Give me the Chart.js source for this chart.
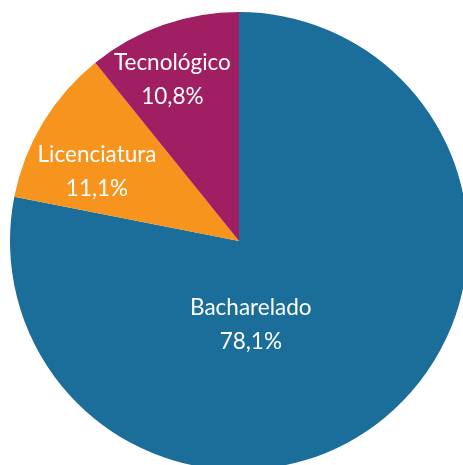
<!DOCTYPE html>
<html>
<head>
<meta charset="utf-8">
<script src="https://cdn.jsdelivr.net/npm/chart.js@4"></script>
<style>
  html, body { margin: 0; padding: 0; background: #fff; overflow: hidden; }
  #wrap { position: absolute; left: 10px; top: 12px; width: 458px; height: 458px; }
</style>
</head>
<body>
<div id="wrap"><canvas id="myChart" width="458" height="458"></canvas></div>
<script>
var categories = ['Bacharelado', 'Licenciatura', 'Tecnológico'];
var shares = [78.1, 11.1, 10.8];
var colors = ['#1b6d9a', '#f7941d', '#a01f62'];

// where each label sits: angle from top (clockwise, degrees) and fraction of radius
var labelSpots = [[172, 0.37], [296, 0.69], [337.5, 0.76]];

var sliceLabels = {
    id: 'sliceLabels',
    afterDatasetsDraw: function (chart) {
        var ctx = chart.ctx;
        var arcs = chart.getDatasetMeta(0).data;
        ctx.save();
        ctx.fillStyle = '#ffffff';
        ctx.font = '22.5px Lato';
        ctx.textAlign = 'center';
        ctx.textBaseline = 'middle';
        arcs.forEach(function (arc, i) {
            var a = labelSpots[i][0] * Math.PI / 180;
            var r = arc.outerRadius * labelSpots[i][1];
            var x = arc.x + Math.sin(a) * r;
            var y = arc.y - Math.cos(a) * r;
            ctx.fillText(categories[i], x, y - 17);
            ctx.fillText(shares[i].toFixed(1).replace('.', ',') + '%', x, y + 17);
        });
        ctx.restore();
    }
};

var ctx = document.getElementById('myChart').getContext('2d');
var chart = new Chart(ctx, {
    type: 'pie',
    data: {
        labels: categories,
        datasets: [{
            data: shares,
            backgroundColor: colors,
            borderWidth: 0
        }]
    },
    options: {
        responsive: false,
        animation: false,
        layout: { padding: 0 },
        plugins: {
            legend: { display: false },
            tooltip: { enabled: false }
        }
    },
    plugins: [sliceLabels]
});
</script>
</body>
</html>
